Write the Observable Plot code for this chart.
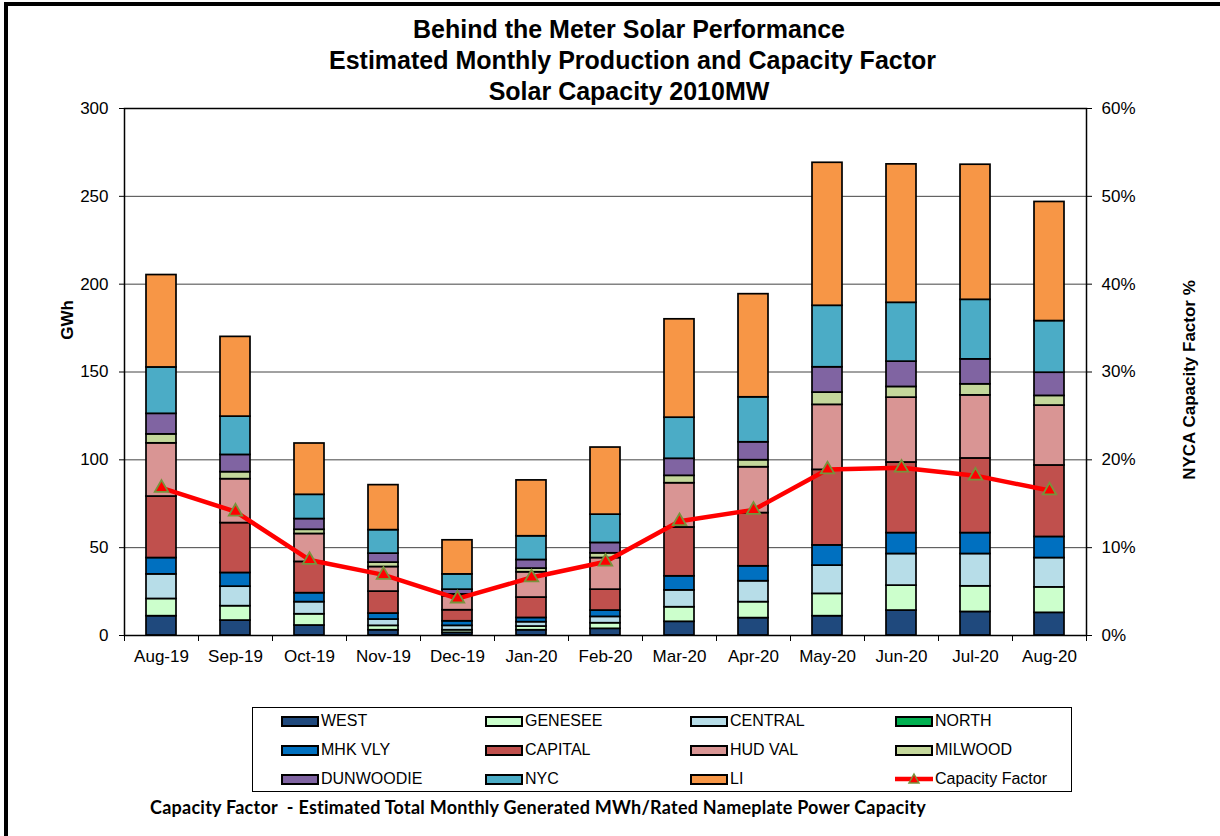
<!DOCTYPE html>
<html>
<head>
<meta charset="utf-8">
<script src="https://cdn.jsdelivr.net/npm/d3@7"></script>
<script src="https://cdn.jsdelivr.net/npm/@observablehq/plot@0.6"></script>
<style>
  html, body { margin: 0; padding: 0; background: #fff; }
  #page { position: relative; width: 1220px; height: 836px; overflow: hidden; font-family: "Liberation Sans", Arial, sans-serif; color: #000; }
  #frame { position: absolute; left: 4px; top: 2px; width: 1300px; height: 900px; border-left: 4px solid #000; border-top: 4px solid #000; }
  #title { position: absolute; left: 329px; width: 600px; top: 14px; text-align: center; font-weight: bold; font-size: 25px; line-height: 31px; white-space: nowrap; }
  #chart { position: absolute; left: 0; top: 90px; }
  .ylab { position: absolute; font-weight: bold; font-size: 17px; white-space: nowrap; transform-origin: center; }
  #legend { position: absolute; left: 252px; top: 707px; width: 818px; height: 83px; border: 1.5px solid #000; }
  .item { position: absolute; height: 20px; display: flex; align-items: center; font-size: 16px; white-space: nowrap; }
  .sw { width: 34px; height: 7px; border: 2px solid #000; margin-right: 2px; }
  #foot { position: absolute; left: 150px; top: 796px; font-family: Lato, "Open Sans", sans-serif; font-weight: bold; font-size: 18px; letter-spacing: 0.25px; white-space: pre; }
</style>
</head>
<body>
<div id="page">
  <div id="frame"></div>
  <div id="title">Behind the Meter Solar Performance<br>Estimated Monthly Production and Capacity Factor<br>Solar Capacity 2010MW</div>
  <div id="chart"></div>
  <div class="ylab" id="ylabL">GWh</div>
  <div class="ylab" id="ylabR">NYCA Capacity Factor %</div>
  <div id="legend"></div>
  <div id="foot">Capacity Factor  - Estimated Total Monthly Generated MWh/Rated Nameplate Power Capacity</div>
</div>
<script>
const months = ["Aug-19","Sep-19","Oct-19","Nov-19","Dec-19","Jan-20","Feb-20","Mar-20","Apr-20","May-20","Jun-20","Jul-20","Aug-20"];
const seriesNames = ["WEST","GENESEE","CENTRAL","NORTH","MHK VLY","CAPITAL","HUD VAL","MILWOOD","DUNWOODIE","NYC","LI"];
const seriesColors = ["#1F497D","#CCFFCC","#B7DDE8","#00B050","#0070C0","#C0504D","#D99594","#C4D79B","#8064A2","#4BACC6","#F79646"];

const west      = [11, 8.5, 5.7, 3, 1.5, 3, 3.8, 7.8, 9.9, 11, 14.2, 13.4, 12.9];
const genesee   = [9.8, 8.2, 6.4, 2.5, 1.5, 2.1, 3.2, 8.3, 9.1, 12.7, 14.2, 14.6, 14.5];
const central   = [14, 11.1, 6.9, 3.6, 2.5, 2.5, 3.6, 9.6, 11.9, 16.1, 18, 18.4, 16.7];
const north     = [0, 0, 0, 0, 0, 0, 0, 0, 0, 0, 0, 0, 0];
const mhkVly    = [9.3, 7.8, 5.1, 3.4, 2.6, 2.4, 3.6, 8, 8.5, 11.5, 11.9, 11.9, 12];
const capital   = [35, 28.4, 17.8, 12.5, 6.3, 11.6, 11.9, 27.8, 30.3, 43, 40.2, 42.5, 40.7];
const hudVal    = [30.3, 25, 15.9, 14, 8, 14.4, 18, 25.2, 26.1, 37, 36.9, 35.9, 34.1];
const milwood   = [5.1, 4, 2.4, 2.5, 1, 2.1, 2.7, 4.2, 4, 7, 6.1, 6.3, 5.5];
const dunwoodie = [11.7, 9.8, 6.1, 5.1, 2.7, 4.9, 5.9, 9.7, 10.2, 14.4, 14.4, 14.2, 13.2];
const nyc       = [26.4, 21.8, 13.8, 13.4, 8.7, 13.5, 16.1, 23.4, 25.6, 35, 33.5, 33.9, 29.4];
const li        = [52.6, 45.4, 29.2, 25.6, 19.4, 31.8, 38.2, 56, 58.7, 81.4, 78.8, 76.9, 67.8];
const capacityFactor = [16.8, 14.1, 8.6, 6.9, 4.2, 6.6, 8.4, 13, 14.3, 18.9, 19.1, 18.2, 16.5]; // percent

const yTicks = [0, 50, 100, 150, 200, 250, 300];       // GWh
const gwhMax = 300, cfMax = 60;                         // left 0-300 GWh, right 0-60 %

const seriesValues = [west, genesee, central, north, mhkVly, capital, hudVal, milwood, dunwoodie, nyc, li];
const rows = [];
seriesNames.forEach((s, si) => months.forEach((m, mi) => rows.push({month: m, series: s, value: seriesValues[si][mi]})));
const cfRows = months.map((m, i) => ({month: m, cf: capacityFactor[i]}));
const toLeft = v => v * gwhMax / cfMax;

const W = 1220, H = 590, mTop = 18, mBottom = 45, mLeft = 124, mRight = 134;
const innerH = H - mTop - mBottom;
const step = (W - mLeft - mRight) / months.length;

const chart = Plot.plot({
  width: W, height: H,
  marginTop: mTop, marginBottom: mBottom, marginLeft: mLeft, marginRight: mRight,
  style: {fontFamily: '"Liberation Sans", Arial, sans-serif', fontSize: "17px", color: "#000", background: "transparent"},
  x: {domain: months, paddingInner: 0.6, paddingOuter: 0.3, label: null},
  y: {domain: [0, gwhMax], label: null},
  color: {domain: seriesNames, range: seriesColors},
  marks: [
    Plot.ruleY(yTicks.slice(1), {stroke: "#444", strokeWidth: 1}),
    Plot.barY(rows, Plot.stackY({x: "month", y: "value", fill: "series", order: null, stroke: "#000", strokeWidth: 1.7})),
    Plot.frame({stroke: "#000", strokeWidth: 1.5}),
    Plot.axisY({ticks: yTicks, tickSize: 5, tickPadding: 11, label: null, fontSize: 17}),
    Plot.axisY({anchor: "right", ticks: yTicks, tickSize: 5, tickPadding: 10, label: null, fontSize: 17,
                tickFormat: d => Math.round(d * cfMax / gwhMax) + "%"}),
    Plot.axisX({tickSize: 0, tickPadding: 14, label: null, fontSize: 17}),
    Plot.ruleX(months, {x: d => d, dx: -step / 2, insetTop: innerH, insetBottom: -6, stroke: "#000", strokeWidth: 1}),
    Plot.ruleX(months.slice(-1), {x: d => d, dx: step / 2, insetTop: innerH, insetBottom: -6, stroke: "#000", strokeWidth: 1}),
    Plot.line(cfRows, {x: "month", y: d => toLeft(d.cf), stroke: "#FF0000", strokeWidth: 4.5}),
    Plot.dot(cfRows, {x: "month", y: d => toLeft(d.cf), symbol: "triangle", r: 5, fill: "#FF0000", stroke: "#77933C", strokeWidth: 1.8})
  ]
});
document.getElementById("chart").appendChild(chart);

// rotated axis titles
const yl = document.getElementById("ylabL");
yl.style.left = (68 - 20) + "px"; yl.style.top = (320 - 10) + "px"; yl.style.width = "40px"; yl.style.textAlign = "center";
yl.style.transform = "rotate(-90deg)";
const yr = document.getElementById("ylabR");
yr.style.width = "240px"; yr.style.textAlign = "center";
yr.style.left = (1190 - 120) + "px"; yr.style.top = (380 - 10) + "px";
yr.style.transform = "rotate(-90deg)";

// legend
const legend = document.getElementById("legend");
const colX = [28, 232, 437, 642];
const rowY = [3, 32, 61];
const legendItems = seriesNames.map((s, i) => ({name: s, color: seriesColors[i]}));
legendItems.push({name: "Capacity Factor", line: true});
legendItems.forEach((it, i) => {
  const div = document.createElement("div");
  div.className = "item";
  div.style.left = colX[i % 4] + "px";
  div.style.top = rowY[Math.floor(i / 4)] + "px";
  if (it.line) {
    div.innerHTML = '<svg width="38" height="14" style="margin-right:2px"><line x1="0" y1="7" x2="38" y2="7" stroke="#FF0000" stroke-width="4.5"/><path d="M19,2 L24,11 L14,11 Z" fill="#FF0000" stroke="#77933C" stroke-width="1.5"/></svg>';
  } else {
    const sw = document.createElement("div");
    sw.className = "sw"; sw.style.background = it.color;
    div.appendChild(sw);
  }
  div.appendChild(document.createTextNode(it.name));
  legend.appendChild(div);
});
</script>
</body>
</html>
